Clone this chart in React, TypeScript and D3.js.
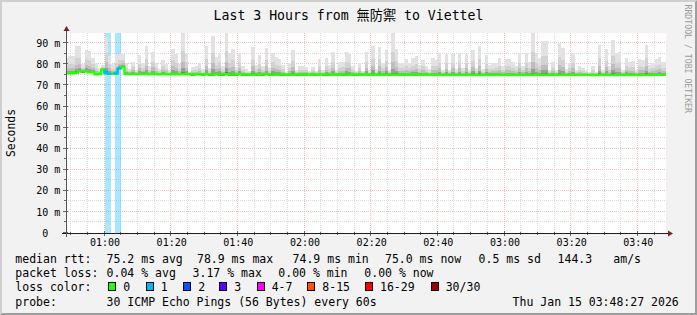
import React from "react";
import * as d3 from "d3";

const WIDTH = 697;
const HEIGHT = 315;

// ---- data ----
const startTime = new Date(Date.UTC(2026, 0, 15, 0, 48, 27));
const endTime = new Date(Date.UTC(2026, 0, 15, 3, 48, 27));
const firstSample = new Date(Date.UTC(2026, 0, 15, 0, 48, 0));
const sampleMinutes = 1;

const rttMax = [
  83, 84, 84, 88.5, 88.5, 80, 87, 86.5, 83, 80.5, 78, 79.5, 93, 84, 80, 85, 85, 85, 80.5, 78,
  81, 77.5, 84.5, 80.5, 88.5, 79, 86, 80.5, 78, 82, 80, 77.5, 87.5, 85, 80, 95,
  85.6, 76.5, 78.7, 79, 80.5, 77.7, 88.5, 78.2, 93.6, 83.7, 85.6, 79, 95, 85.3, 87.4, 78.7, 85.6, 79, 77.7, 77,
  88.2, 79.8, 84.5, 79, 87.7, 78.2, 85.6, 83.7, 82.4, 79.8, 76.5, 80.5, 86.9, 77.4, 79, 79.3,
  78.7, 77, 78.7, 77, 82.4, 77.4, 82.9, 79.8, 86, 77.4, 81.3, 81.3, 86, 85, 79, 77, 80.5, 77, 86, 77.4,
  88.8, 77.7, 88.2, 80.5, 86.9, 77.4, 95, 87.2, 80.5, 80.5, 82.4, 80.5, 82.9, 84, 79.8, 82.2,
  79.3, 77.7, 82.9, 82.2, 85.3, 77.4, 85, 77.4, 85, 77.7, 85.3, 78.2, 85, 77.4, 86.6, 78.2, 88.8, 77.7, 84.5, 79.8,
  80.5, 80.5, 82.9, 79, 82.4, 82.4, 81.3, 79, 85.3, 79, 85.3, 81.3, 95, 85.3, 82.9, 90.9,
  91, 77.4, 81.3, 77.4, 90.1, 87.7, 77.7, 80.5, 85.3, 77.4, 79.3, 78.2, 77.4, 76.5, 79, 76.5, 89.3, 77.4, 87.2, 79,
  91.5, 85.6, 86.1, 77.4, 82.9, 81.3, 81.8, 77.4, 82.4, 82.2, 89.3, 79.8, 80.5, 82.4, 83.7, 81.3, 81.3,
];

const rttMedian = [
  75.8, 75.9, 75.8, 76.0, 76.7, 76.6, 76.7, 76.2, 76.3, 75.3, 75.4, 77.6, 75.9, 75.6, 75.5, 75.7, 78.1, 78.8,
  75.5, 75.4, 75.5, 75.4, 75.4, 75.5, 75.4, 75.3, 75.4, 75.4, 75.3, 75.4, 75.3, 75.3, 75.4, 75.3, 75.3, 75.4,
  75.3, 75.3, 75.2, 75.3, 75.3, 75.2, 75.3, 75.2, 75.2, 75.3, 75.2, 75.2, 75.3, 75.2, 75.2, 75.2, 75.3, 75.2,
  75.2, 75.2, 75.1, 75.2, 75.2, 75.2, 75.3, 75.2, 75.2, 75.1, 75.2, 75.2, 75.2, 75.2, 75.1, 75.2, 75.2, 75.2,
  75.2, 75.1, 75.2, 75.2, 75.1, 75.2, 75.2, 75.2, 75.1, 75.2, 75.1, 75.2, 75.2, 75.1, 75.2, 75.2, 75.1, 75.2,
  75.1, 75.1, 75.2, 75.1, 75.2, 75.1, 75.1, 75.2, 75.1, 75.1, 75.1, 75.2, 75.1, 75.1, 75.1, 75.2, 75.1, 75.1,
  75.1, 75.1, 75.0, 75.1, 75.1, 75.1, 75.0, 75.1, 75.1, 75.0, 75.1, 75.1, 75.1, 75.0, 75.1, 75.1, 75.0, 75.1,
  75.1, 75.1, 75.0, 75.1, 75.0, 75.1, 75.1, 75.0, 75.1, 75.0, 75.1, 75.0, 75.1, 75.0, 75.1, 75.0, 75.0, 75.1,
  75.0, 75.1, 75.0, 75.0, 75.1, 75.0, 75.0, 75.1, 75.0, 75.0, 75.0, 75.1, 75.0, 75.0, 74.9, 75.0, 75.0, 75.1,
  75.0, 75.0, 75.0, 74.9, 75.0, 75.0, 75.1, 75.0, 75.0, 75.0, 74.9, 75.0, 75.0, 75.0, 75.1, 75.0, 75.0, 75.0, 75.0,
];

const lossPings = [
  0, 0, 0, 0, 0, 0, 0, 0, 0, 0, 0, 0, 1, 1, 0, 1, 1, 0, 0, 0,
  0, 0, 0, 0, 0, 0, 0, 0, 0, 0, 0, 0, 0, 0, 0, 0, 0, 0, 0, 0,
  0, 0, 0, 0, 0, 0, 0, 0, 0, 0, 0, 0, 0, 0, 0, 0, 0, 0, 0, 0,
  0, 0, 0, 0, 0, 0, 0, 0, 0, 0, 0, 0, 0, 0, 0, 0, 0, 0, 0, 0,
  0, 0, 0, 0, 0, 0, 0, 0, 0, 0, 0, 0, 0, 0, 0, 0, 0, 0, 0, 0,
  0, 0, 0, 0, 0, 0, 0, 0, 0, 0, 0, 0, 0, 0, 0, 0, 0, 0, 0, 0,
  0, 0, 0, 0, 0, 0, 0, 0, 0, 0, 0, 0, 0, 0, 0, 0, 0, 0, 0, 0,
  0, 0, 0, 0, 0, 0, 0, 0, 0, 0, 0, 0, 0, 0, 0, 0, 0, 0, 0, 0,
  0, 0, 0, 0, 0, 0, 0, 0, 0, 0, 0, 0, 0, 0, 0, 0, 0, 0, 0, 0,
  0,
];

const yTickValues = [0, 10, 20, 30, 40, 50, 60, 70, 80, 90];
const yTickLabels = ["0", "10 m", "20 m", "30 m", "40 m", "50 m", "60 m", "70 m", "80 m", "90 m"];
const xTickLabels = ["01:00", "01:20", "01:40", "02:00", "02:20", "02:40", "03:00", "03:20", "03:40"];

const titleText = "Last 3 Hours from 無防禦 to Viettel";
const yAxisTitle = "Seconds";
const watermarkText = "RRDTOOL / TOBI OETIKER";

const lossClassLabels = ["0", "1", "2", "3", "4-7", "8-15", "16-29", "30/30"];
const lossClassColors = ["#26ff00", "#00b8ff", "#0059ff", "#5e00ff", "#ff00ff", "#ff5500", "#ff0000", "#a10000"];

const medianLabel = "median rtt:";
const medianStats = ["75.2 ms avg", "78.9 ms max", "74.9 ms min", "75.0 ms now", "0.5 ms sd", "144.3", "am/s"];
const lossLabel = "packet loss:";
const lossStats = ["0.04 % avg", "3.17 % max", "0.00 % min", "0.00 % now"];
const lossColorLabel = "loss color:";
const probeLabel = "probe:";
const probeText = "30 ICMP Echo Pings (56 Bytes) every 60s";
const dateText = "Thu Jan 15 03:48:27 2026";

// ---- layout ----
const PLOT_LEFT = 66;
const PLOT_RIGHT = 666;
const PLOT_TOP = 33;
const PLOT_BOTTOM = 233;
const MONO = "'DejaVu Sans Mono', 'Noto Sans CJK TC', monospace";

const medianStatX = [106.6, 197, 292.6, 385, 478.6, 557.6, 613.3];
const lossStatX = [106.6, 192.6, 278.3, 364.3];
const lossBoxX = [108.3, 145.7, 183.3, 219.3, 256.7, 307.3, 365, 430.7];
const rowBaselines = [263, 277.3, 291.3, 305.5];

function lossClass(n: number): number {
  if (n <= 0) return 0;
  if (n <= 3) return n;
  if (n <= 7) return 4;
  if (n <= 15) return 5;
  if (n <= 29) return 6;
  return 7;
}

const smokeLayers = [
  { f: 1.0, c: "#e2e2e2" },
  { f: 0.55, c: "#d2d2d2" },
  { f: 0.3, c: "#bdbdbd" },
  { f: 0.14, c: "#9c9c9c" },
  { f: 0.05, c: "#6e6e6e" },
];

export default function App() {
  const x = d3.scaleUtc().domain([startTime, endTime]).range([PLOT_LEFT, PLOT_RIGHT]);
  const y = d3.scaleLinear().domain([0, 95]).range([PLOT_BOTTOM, 32.75]);

  const n = Math.min(rttMax.length, rttMedian.length, lossPings.length);
  const samples = d3.range(n).map((k) => {
    const t0 = d3.utcMinute.offset(firstSample, k * sampleMinutes);
    const t1 = d3.utcMinute.offset(firstSample, (k + 1) * sampleMinutes);
    return { k, t0, t1, max: rttMax[k], med: rttMedian[k], loss: lossPings[k] };
  });

  const minorX = d3.utcMinute.every(5)!.range(startTime, endTime);
  const majorX = xTickLabels.map((s) => new Date(Date.UTC(2026, 0, 15, +s.slice(0, 2), +s.slice(3, 5))));
  const minorY = d3.range(5, 95, 5).filter((v) => v % 10 !== 0);

  const crisp = (v: number) => Math.round(v) + 0.5;

  const stepPts: [number, number][] = samples.map((s) => [x(s.t0), y(s.med)]);
  const last = samples[samples.length - 1];
  stepPts.push([x(last.t1), y(last.med)]);
  const stepLine = d3.line().curve(d3.curveStepAfter);

  return (
    <svg
      width={WIDTH}
      height={HEIGHT}
      style={{ position: "absolute", left: 0, top: 0, display: "block" }}
      fontFamily={MONO}
    >
      <defs>
        <clipPath id="plotClip">
          <rect x={PLOT_LEFT} y={PLOT_TOP} width={PLOT_RIGHT - PLOT_LEFT} height={PLOT_BOTTOM - PLOT_TOP} />
        </clipPath>
      </defs>
      <rect x={0} y={0} width={WIDTH} height={HEIGHT} fill="#f2f2f2" />
      <polygon points={`0,${HEIGHT} 2,${HEIGHT - 2} 2,2 ${WIDTH - 2},2 ${WIDTH},0 0,0`} fill="#cfcfcf" />
      <polygon points={`0,${HEIGHT} 2,${HEIGHT - 2} ${WIDTH - 2},${HEIGHT - 2} ${WIDTH - 2},2 ${WIDTH},0 ${WIDTH},${HEIGHT}`} fill="#9e9e9e" />
      <rect x={PLOT_LEFT} y={PLOT_TOP} width={PLOT_RIGHT - PLOT_LEFT} height={PLOT_BOTTOM - PLOT_TOP} fill="#ffffff" />

      {/* grid */}
      <g shapeRendering="crispEdges" strokeWidth={1}>
        {minorY.map((v) => (
          <line key={"my" + v} x1={PLOT_LEFT} x2={PLOT_RIGHT} y1={crisp(y(v)) - 1} y2={crisp(y(v)) - 1} stroke="#dadada" strokeDasharray="1,1" />
        ))}
        {minorX.map((t, i) => (
          <line key={"mx" + i} x1={crisp(x(t)) - 1} x2={crisp(x(t)) - 1} y1={PLOT_TOP} y2={PLOT_BOTTOM} stroke="#dadada" strokeDasharray="1,1" />
        ))}
        {yTickValues.filter((v) => v > 0).map((v) => (
          <line key={"My" + v} x1={PLOT_LEFT} x2={PLOT_RIGHT} y1={crisp(y(v)) - 1} y2={crisp(y(v)) - 1} stroke="#f1c0c0" strokeDasharray="1,1" />
        ))}
        {majorX.map((t, i) => (
          <line key={"Mx" + i} x1={crisp(x(t)) - 1} x2={crisp(x(t)) - 1} y1={PLOT_TOP} y2={PLOT_BOTTOM} stroke="#f1c0c0" strokeDasharray="1,1" />
        ))}
      </g>

      <g clipPath="url(#plotClip)" shapeRendering="crispEdges">
        {samples.filter((s) => s.loss > 0).map((s) => (
          <rect
            key={"band" + s.k}
            x={x(s.t0)}
            width={x(s.t1) - x(s.t0)}
            y={PLOT_TOP}
            height={PLOT_BOTTOM - PLOT_TOP}
            fill={lossClassColors[lossClass(s.loss)]}
            fillOpacity={0.34}
          />
        ))}
        {samples.map((s) =>
          smokeLayers.map((L, li) => {
            const top = s.med + L.f * (s.max - s.med);
            const bottom = s.med - 0.5;
            return (
              <rect
                key={"s" + s.k + "_" + li}
                x={x(s.t0)}
                width={x(s.t1) - x(s.t0)}
                y={y(top)}
                height={y(bottom) - y(top)}
                fill={L.c}
              />
            );
          })
        )}
      </g>

      <g clipPath="url(#plotClip)">
        <path d={stepLine(stepPts) || ""} fill="none" stroke={lossClassColors[0]} strokeWidth={2.4} />
        {samples.filter((s) => s.loss > 0).map((s) => {
          const prev = samples[s.k - 1];
          const pts: [number, number][] = [
            [x(s.t0), y(prev ? prev.med : s.med)],
            [x(s.t0), y(s.med)],
            [x(s.t1), y(s.med)],
          ];
          return (
            <path key={"l" + s.k} d={d3.line()(pts) || ""} fill="none" stroke={lossClassColors[lossClass(s.loss)]} strokeWidth={2.4} />
          );
        })}
      </g>

      {/* axes */}
      <g shapeRendering="crispEdges">
        {minorX.map((t, i) => (
          <line key={"tx" + i} x1={crisp(x(t)) - 1} x2={crisp(x(t)) - 1} y1={PLOT_BOTTOM - 1} y2={PLOT_BOTTOM + 2} stroke="#666" />
        ))}
        {majorX.map((t, i) => (
          <line key={"Tx" + i} x1={crisp(x(t)) - 1} x2={crisp(x(t)) - 1} y1={PLOT_BOTTOM - 2} y2={PLOT_BOTTOM + 3} stroke="#666" />
        ))}
        {minorY.map((v) => (
          <line key={"ty" + v} x1={PLOT_LEFT - 2} x2={PLOT_LEFT + 1} y1={crisp(y(v)) - 1} y2={crisp(y(v)) - 1} stroke="#666" />
        ))}
        {yTickValues.map((v) => (
          <line key={"Ty" + v} x1={PLOT_LEFT - 3} x2={PLOT_LEFT + 2} y1={crisp(y(v)) - 1} y2={crisp(y(v)) - 1} stroke="#666" />
        ))}
        <line x1={PLOT_LEFT - 4} x2={PLOT_RIGHT + 4} y1={PLOT_BOTTOM + 0.5} y2={PLOT_BOTTOM + 0.5} stroke="#1f1f1f" />
        <line x1={PLOT_LEFT + 0.5} x2={PLOT_LEFT + 0.5} y1={PLOT_BOTTOM + 4} y2={PLOT_TOP - 4} stroke="#555" />
      </g>
      <polygon points={`${PLOT_RIGHT + 2},${PLOT_BOTTOM - 2.5} ${PLOT_RIGHT + 7},${PLOT_BOTTOM + 0.5} ${PLOT_RIGHT + 2},${PLOT_BOTTOM + 3.5}`} fill="#801f1f" />
      <polygon points={`${PLOT_LEFT - 2.5},${PLOT_TOP - 2} ${PLOT_LEFT + 0.5},${PLOT_TOP - 7} ${PLOT_LEFT + 3.5},${PLOT_TOP - 2}`} fill="#801f1f" />

      <g fontSize={10} fill="#000">
        {yTickValues.map((v, i) => {
          const lab = yTickLabels[i];
          const xEnd = lab.includes(" ") ? 60.3 : 60.3 - 2 * 6.02;
          return (
            <text key={"yl" + v} x={xEnd} y={y(v) + 3.6} textAnchor="end">
              {lab}
            </text>
          );
        })}
        {majorX.map((t, i) => (
          <text key={"xl" + i} x={x(t) + 0.5} y={246} textAnchor="middle">
            {xTickLabels[i]}
          </text>
        ))}
      </g>

      <text x={WIDTH / 2} y={19.5} textAnchor="middle" fontSize={13.2} fill="#000">
        {titleText}
      </text>
      <text transform={`translate(14.8, ${(PLOT_TOP + PLOT_BOTTOM) / 2}) rotate(-90)`} textAnchor="middle" fontSize={11.43} fill="#000">
        {yAxisTitle}
      </text>
      <text transform={`translate(684.5, 4.5) rotate(90)`} fontSize={8.2} fill="#9a9a9a">
        {watermarkText}
      </text>

      <g fontSize={11.5} fill="#000">
        <text x={15.3} y={rowBaselines[0]}>{medianLabel}</text>
        {medianStats.map((s, i) => (
          <text key={"ms" + i} x={medianStatX[i]} y={rowBaselines[0]}>{s}</text>
        ))}
        <text x={15.3} y={rowBaselines[1]}>{lossLabel}</text>
        {lossStats.map((s, i) => (
          <text key={"ls" + i} x={lossStatX[i]} y={rowBaselines[1]}>{s}</text>
        ))}
        <text x={15.3} y={rowBaselines[2]}>{lossColorLabel}</text>
        {lossClassLabels.map((s, i) => (
          <g key={"lc" + i}>
            <rect x={lossBoxX[i] + 0.5} y={rowBaselines[2] - 8.5} width={7} height={8} fill={lossClassColors[i]} stroke="#000" strokeWidth={1} shapeRendering="crispEdges" />
            <text x={lossBoxX[i] + 15} y={rowBaselines[2]}>{s}</text>
          </g>
        ))}
        <text x={15.3} y={rowBaselines[3]}>{probeLabel}</text>
        <text x={106.6} y={rowBaselines[3]}>{probeText}</text>
        <text x={512.6} y={rowBaselines[3]}>{dateText}</text>
      </g>
    </svg>
  );
}
